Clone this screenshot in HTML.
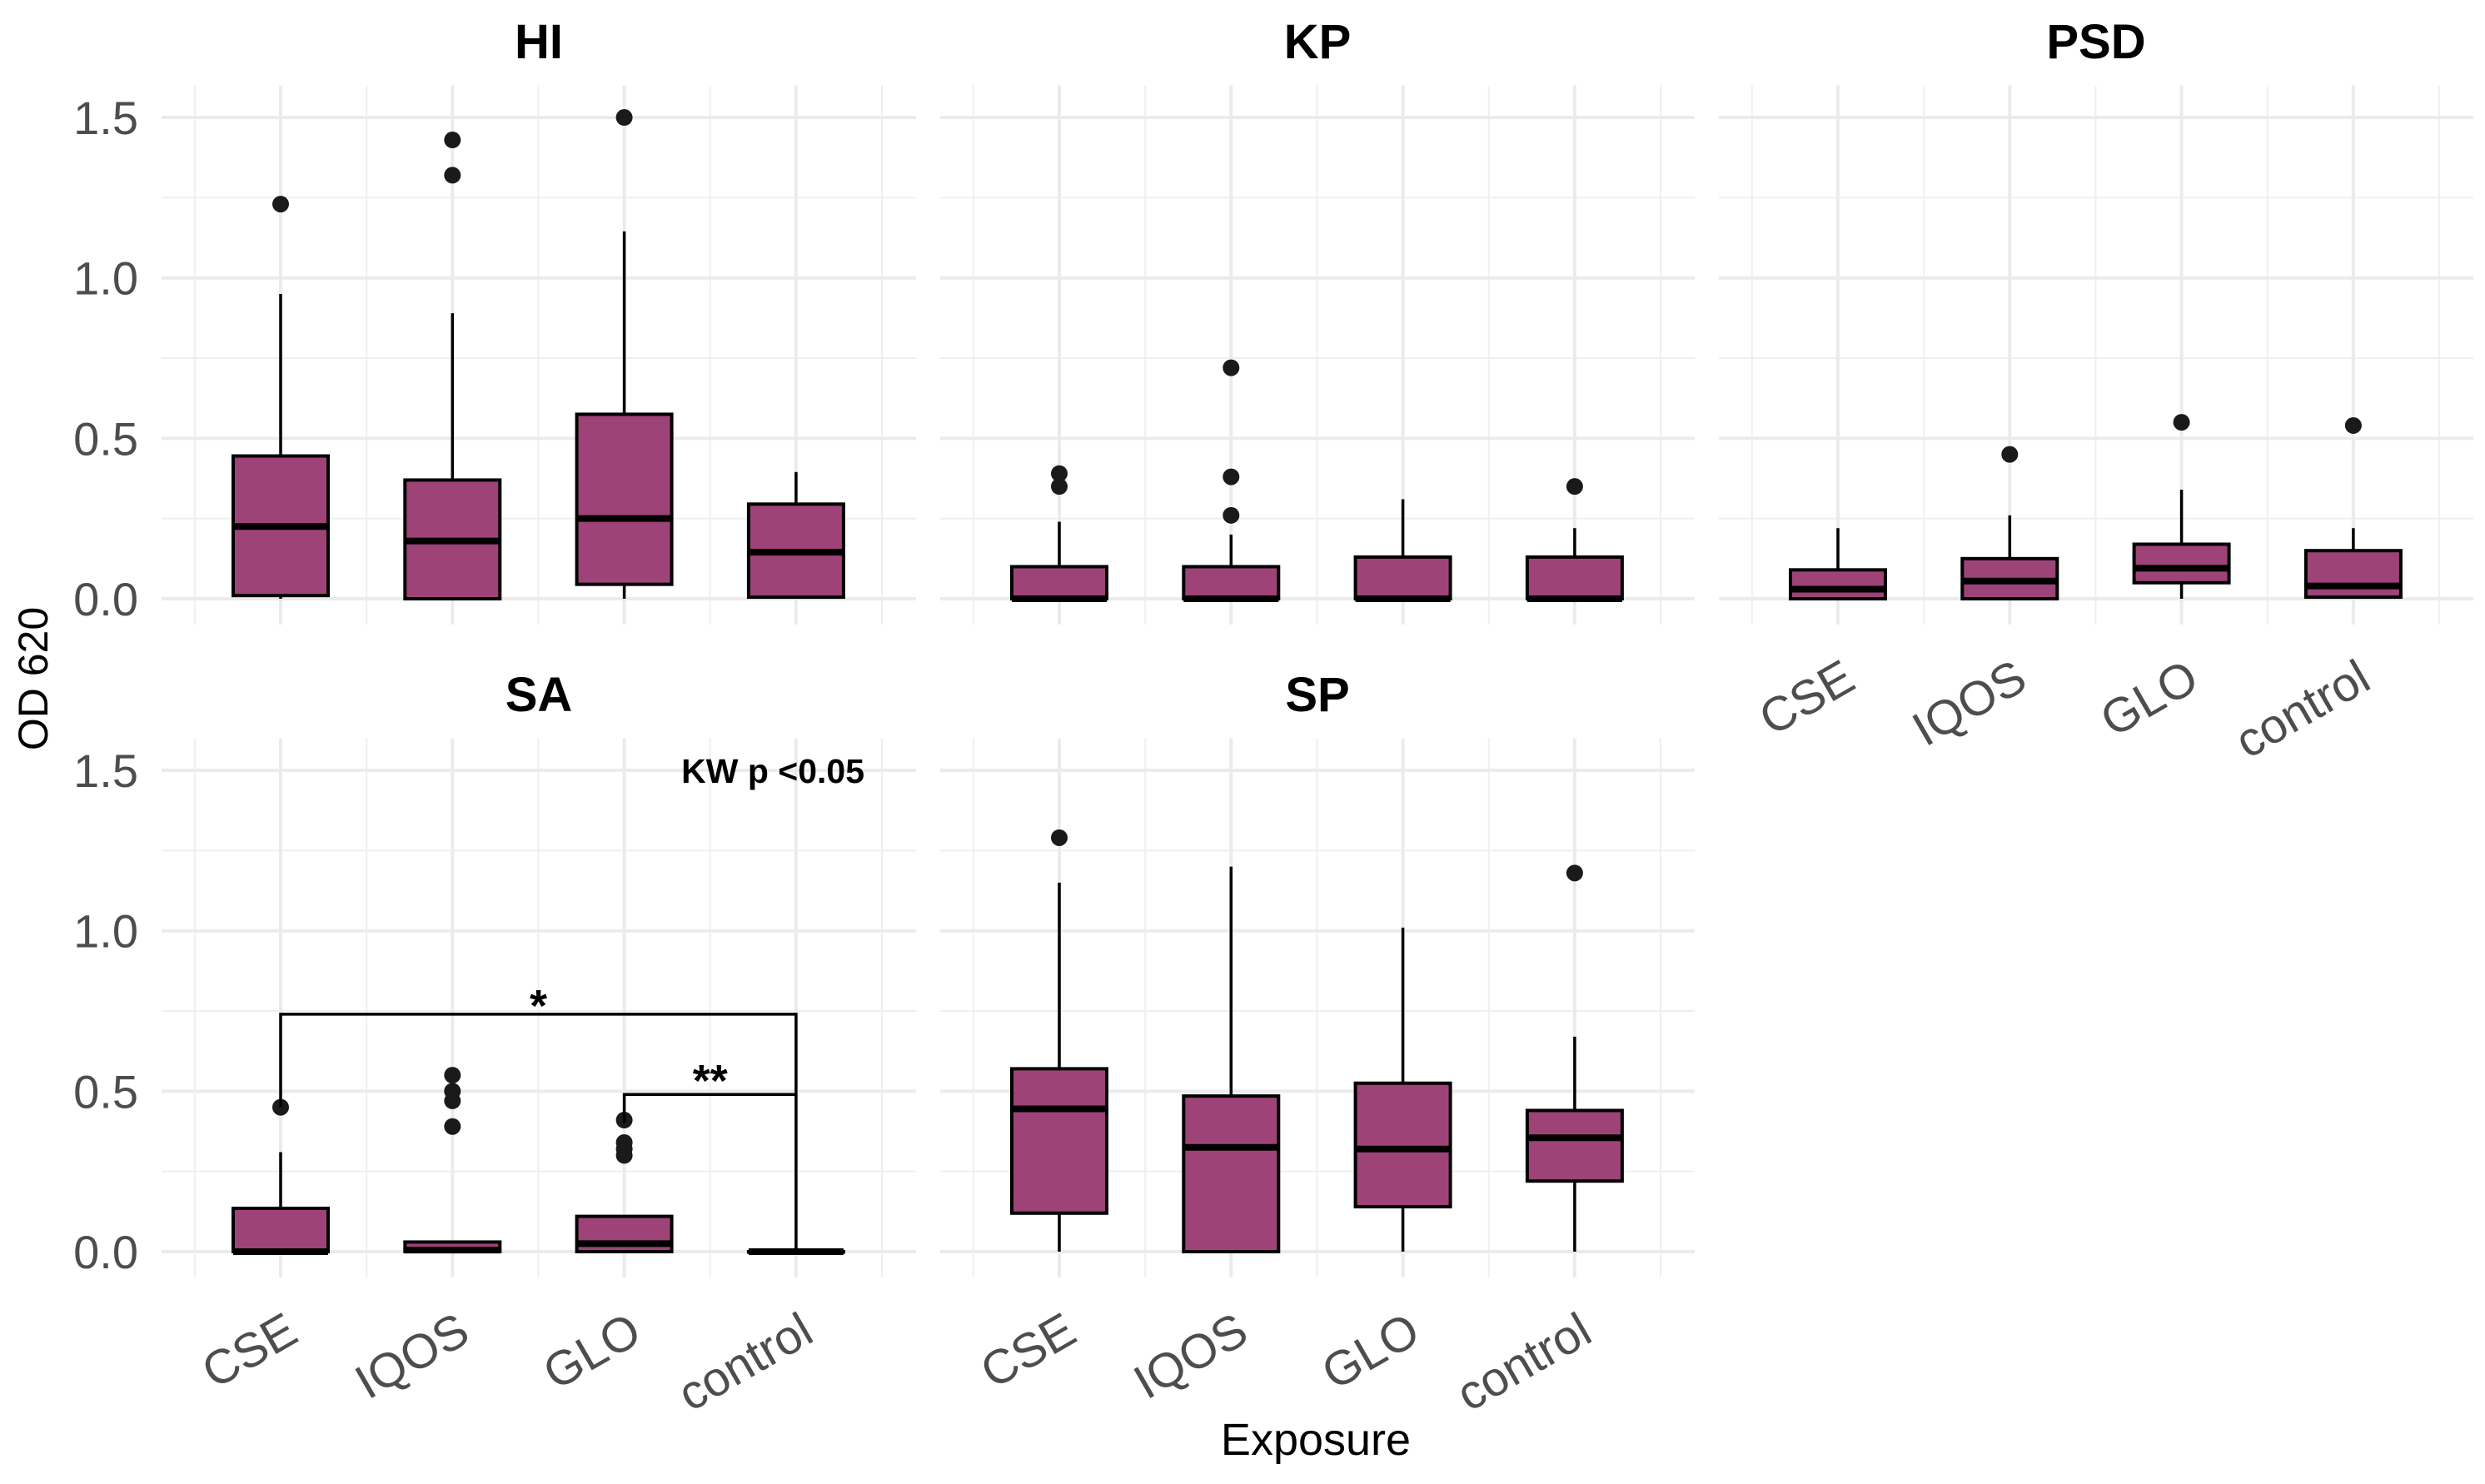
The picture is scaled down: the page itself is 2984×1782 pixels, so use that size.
<!DOCTYPE html>
<html><head><meta charset="utf-8"><style>
body{margin:0;background:#fff}
svg{display:block}
text{font-family:"Liberation Sans",sans-serif}
</style></head><body>
<svg id="chart" width="2984" height="1782" viewBox="0 0 2984 1782" xmlns="http://www.w3.org/2000/svg">
<rect width="2984" height="1782" fill="#fff"/>
<text x="44" y="815" font-size="50" text-anchor="middle" dominant-baseline="middle" transform="rotate(-90 44 815)">OD 620</text>
<text x="1580" y="1747" font-size="54" text-anchor="middle">Exposure</text>
</svg>
<script>
const categories = ["CSE","IQOS","GLO","control"];
const panelNames = ["HI","KP","PSD","SA","SP"];
const yTicks = [0, 0.5, 1.0, 1.5];
const yTickLabels = ["0.0","0.5","1.0","1.5"];
// per panel, per category: [whiskerLow, q1, median, q3, whiskerHigh]
const statsHI  = [[0,0.01,0.225,0.445,0.95],[0,0,0.18,0.37,0.89],[0,0.045,0.25,0.575,1.145],[0,0.005,0.145,0.295,0.395]];
const statsKP  = [[0,0,0,0.1,0.24],[0,0,0,0.1,0.2],[0,0,0,0.13,0.31],[0,0,0,0.13,0.22]];
const statsPSD = [[0,0,0.03,0.09,0.22],[0,0,0.055,0.125,0.26],[0,0.05,0.095,0.17,0.34],[0,0.005,0.04,0.15,0.22]];
const statsSA  = [[0,0,0,0.135,0.31],[0,0,0.005,0.03,0.03],[0,0,0.025,0.11,0.11],[0,0,0,0,0]];
const statsSP  = [[0,0.12,0.445,0.57,1.15],[0,0,0.325,0.485,1.2],[0,0.14,0.32,0.525,1.01],[0,0.22,0.355,0.44,0.67]];
const outHI  = [[1.23],[1.32,1.43],[1.50],[]];
const outKP  = [[0.35,0.39],[0.26,0.38,0.72],[],[0.35]];
const outPSD = [[],[0.45],[0.55],[0.54]];
const outSA  = [[0.45],[0.39,0.47,0.5,0.55],[0.30,0.32,0.34,0.41],[]];
const outSP  = [[1.29],[],[],[1.18]];
const bracketWide = [0, 3, 0.74, 0.45, 0];
const bracketNarrow = [2, 3, 0.49, 0.40, 0.49];

const NS = "http://www.w3.org/2000/svg";
const svg = document.getElementById("chart");
function el(tag, attrs, parent){const e=document.createElementNS(NS,tag);for(const k in attrs)e.setAttribute(k,attrs[k]);(parent||svg).appendChild(e);return e;}

const allStats=[statsHI,statsKP,statsPSD,statsSA,statsSP];
const allOut=[outHI,outKP,outPSD,outSA,outSP];
const panelPos=[[0,0],[935,0],[1870,0],[0,784],[935,784]];
const UNIT=385.3, PL=194, PW=906, SP=206.3, C0=337;

panelNames.forEach((name,pi)=>{
  const [ox,oy]=panelPos[pi];
  const zeroY=719+oy;
  const y=v=>zeroY-v*UNIT;
  const x=i=>C0+ox+i*SP;
  const g=el("g",{});
  
  
  const top=y(1.6), bot=y(-0.08);
  for(let v=0.25;v<1.6;v+=0.5){el("line",{x1:PL+ox,x2:PL+ox+PW,y1:y(v),y2:y(v),stroke:"#efefef","stroke-width":2},g);}
  for(let i=-0.5;i<4;i+=1){el("line",{x1:x(i),x2:x(i),y1:top,y2:bot,stroke:"#efefef","stroke-width":2},g);}
  yTicks.forEach(v=>{el("line",{x1:PL+ox,x2:PL+ox+PW,y1:y(v),y2:y(v),stroke:"#ebebeb","stroke-width":4},g);});
  categories.forEach((c,i)=>{el("line",{x1:x(i),x2:x(i),y1:top,y2:bot,stroke:"#ebebeb","stroke-width":4},g);});
  const t=el("text",{x:PL+ox+PW/2,y:70+oy,"font-size":58,"font-weight":"bold","text-anchor":"middle"},g);
  t.textContent=name;
  
  
  if(ox===0){
    yTicks.forEach((v,k)=>{
      const tl=el("text",{x:166,y:y(v)+20,"font-size":56,"text-anchor":"end",fill:"#4d4d4d"},g);
      tl.textContent=yTickLabels[k];
      
      
    });
  }
  if(pi>=2){
    categories.forEach((c,i)=>{
      const ax=x(i)+24, ay=zeroY+106;
      const xl=el("text",{x:ax,y:ay,"font-size":58,"text-anchor":"end",fill:"#4d4d4d",transform:`rotate(-30 ${ax} ${ay})`},g);
      xl.textContent=c;
      
      
    });
  }
  allStats[pi].forEach((s,i)=>{
    const [lo,q1,md,q3,hi]=s;
    const bw=57;
    const wl=el("line",{x1:x(i),x2:x(i),y1:y(hi),y2:y(q3),stroke:"#000","stroke-width":3.5},g);
    
    
    const wl2=el("line",{x1:x(i),x2:x(i),y1:y(q1),y2:y(lo),stroke:"#000","stroke-width":3.5},g);
    
    
    const r=el("rect",{x:x(i)-bw,y:y(q3),width:2*bw,height:Math.max(y(q1)-y(q3),0.5),fill:"#9e4377",stroke:"#000","stroke-width":4},g);
    
    
    const m=el("line",{x1:x(i)-bw,x2:x(i)+bw,y1:y(md),y2:y(md),stroke:"#000","stroke-width":8},g);
    
    
    allOut[pi][i].forEach(v=>{
      const d=el("circle",{cx:x(i),cy:y(v),r:10,fill:"#1a1a1a"},g);
      
      
    });
  });
  if(name==="SA"){
    [bracketWide,bracketNarrow].forEach((b,k)=>{
      const [a,c,yt,yl,yr]=b;
      const p=el("path",{d:`M${x(a)},${y(yl)} V${y(yt)} H${x(c)} V${y(yr)}`,fill:"none",stroke:"#000","stroke-width":3.5},g);
      
      
      const st=el("text",{x:(x(a)+x(c))/2,y:y(yt)+(k===0?8:2),"font-size":54,"font-weight":"bold","text-anchor":"middle"},g);
      st.textContent=k===0?"*":"**";
      
      
    });
    const kw=el("text",{x:1038,y:940,"font-size":41,"font-weight":"bold","text-anchor":"end"},g);
    kw.textContent="KW p <0.05";
    
    
  }
});
</script>
</body></html>
